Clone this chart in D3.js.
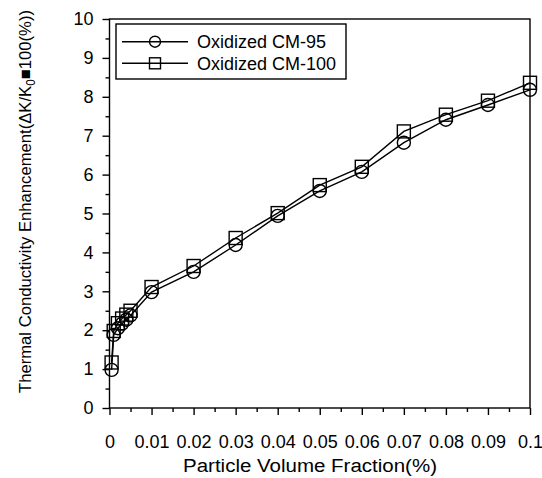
<!DOCTYPE html>
<html>
<head>
<meta charset="utf-8">
<script src="https://cdn.jsdelivr.net/npm/d3@7"></script>
<style>
  body { margin: 0; background: #fff; }
  text { font-family: "Liberation Sans", Arial, sans-serif; fill: #000; }
</style>
</head>
<body>
<div id="chart"></div>
<script>
// data
var fraction = [0.0005, 0.001, 0.002, 0.003, 0.004, 0.005, 0.01, 0.02, 0.03, 0.04, 0.05, 0.06, 0.07, 0.08, 0.09, 0.1];
var cm95 = [0.98, 1.88, 2.05, 2.17, 2.27, 2.38, 2.98, 3.5, 4.19, 4.94, 5.58, 6.07, 6.82, 7.41, 7.79, 8.18];
var cm100 = [1.17, 1.98, 2.18, 2.3, 2.4, 2.5, 3.11, 3.65, 4.37, 5.01, 5.73, 6.2, 7.11, 7.54, 7.9, 8.36];
var seriesNames = ["Oxidized CM-95", "Oxidized CM-100"];
var xTicks = [0, 0.01, 0.02, 0.03, 0.04, 0.05, 0.06, 0.07, 0.08, 0.09, 0.1];
var yTicks = [0, 1, 2, 3, 4, 5, 6, 7, 8, 9, 10];

var width = 542, height = 478,
  margin = { top: 19, right: 12, bottom: 70, left: 109.5 };

var svg = d3.select("#chart").append("svg")
  .attr("width", width)
  .attr("height", height);

var x = d3.scaleLinear().domain([0, 0.1]).range([margin.left, width - margin.right]);
var y = d3.scaleLinear().domain([0, 10]).range([height - margin.bottom, margin.top]);

// frame
svg.append("rect")
  .attr("x", x(0)).attr("y", y(10))
  .attr("width", x(0.1) - x(0)).attr("height", y(0) - y(10))
  .attr("fill", "none").attr("stroke", "#000").attr("stroke-width", 1.4);

// x axis
var xAxis = d3.axisBottom(x).tickValues(xTicks).tickSize(7).tickPadding(20)
  .tickFormat(function (d) { return d3.format("~g")(d); });
svg.append("g")
  .attr("transform", "translate(0," + y(0) + ")")
  .call(xAxis)
  .call(g => g.select(".domain").remove())
  .call(g => g.selectAll(".tick line").attr("stroke-width", 1.4))
  .call(g => g.selectAll("text").style("font-size", "18px").attr("font-family", null));
svg.append("g")
  .attr("transform", "translate(0," + y(0) + ")")
  .call(d3.axisBottom(x).tickValues(d3.range(0.005, 0.1, 0.01)).tickSize(4).tickFormat(""))
  .call(g => g.select(".domain").remove())
  .call(g => g.selectAll(".tick line").attr("stroke-width", 1.4));

// y axis
var yAxis = d3.axisLeft(y).tickValues(yTicks).tickSize(7).tickPadding(9);
svg.append("g")
  .attr("transform", "translate(" + x(0) + ",0)")
  .call(yAxis)
  .call(g => g.select(".domain").remove())
  .call(g => g.selectAll(".tick line").attr("stroke-width", 1.4))
  .call(g => g.selectAll("text").style("font-size", "18px").attr("font-family", null));
svg.append("g")
  .attr("transform", "translate(" + x(0) + ",0)")
  .call(d3.axisLeft(y).tickValues(d3.range(0.5, 10, 1)).tickSize(4).tickFormat(""))
  .call(g => g.select(".domain").remove())
  .call(g => g.selectAll(".tick line").attr("stroke-width", 1.4));

// axis titles
svg.append("text")
  .attr("x", 310).attr("y", 472)
  .attr("text-anchor", "middle")
  .attr("textLength", 254)
  .attr("lengthAdjust", "spacingAndGlyphs")
  .style("font-size", "18px")
  .text("Particle Volume Fraction(%)");

var yt = svg.append("text")
  .attr("transform", "translate(31,201.5) rotate(-90)")
  .attr("text-anchor", "middle")
  .attr("textLength", 383)
  .attr("lengthAdjust", "spacingAndGlyphs")
  .style("font-size", "17px");
yt.append("tspan").text("Thermal Conductivity Enhancement(\u0394K/K");
yt.append("tspan").attr("dy", 4).style("font-size", "12px").text("0");
yt.append("tspan").attr("dy", -4).text("\u25A0100(%))");

// series
var series = [
  { name: seriesNames[0], values: cm95, shape: "circle" },
  { name: seriesNames[1], values: cm100, shape: "square" }
];

var line = d3.line()
  .x(d => x(d[0]))
  .y(d => y(d[1]));

function drawMarker(g, shape, cx, cy, s) {
  if (shape === "circle") {
    g.append("circle")
      .attr("cx", cx).attr("cy", cy).attr("r", s / 2)
      .attr("fill", "none").attr("stroke", "#000").attr("stroke-width", 1.4);
  } else {
    g.append("rect")
      .attr("x", cx - s / 2).attr("y", cy - s / 2)
      .attr("width", s).attr("height", s)
      .attr("fill", "none").attr("stroke", "#000").attr("stroke-width", 1.4);
  }
}

series.forEach(function (s) {
  var pts = fraction.map((f, i) => [f, s.values[i]]);
  svg.append("path")
    .datum(pts)
    .attr("d", line)
    .attr("fill", "none")
    .attr("stroke", "#000")
    .attr("stroke-width", 1.4);
  var g = svg.append("g");
  pts.forEach(function (p) {
    drawMarker(g, s.shape, x(p[0]), y(p[1]), 13);
  });
});

// legend
var legend = svg.append("g");
legend.append("rect")
  .attr("x", 116).attr("y", 24)
  .attr("width", 230).attr("height", 55)
  .attr("fill", "#fff").attr("stroke", "#000").attr("stroke-width", 1.4);
series.forEach(function (s, i) {
  var ly = 41.7 + i * 21.6;
  legend.append("line")
    .attr("x1", 122).attr("x2", 188)
    .attr("y1", ly).attr("y2", ly)
    .attr("stroke", "#000").attr("stroke-width", 1.4);
  drawMarker(legend, s.shape, 155, ly, 11);
  legend.append("text")
    .attr("x", 197).attr("y", ly + 6.5)
    .style("font-size", "18px")
    .text(s.name);
});
</script>
</body>
</html>
